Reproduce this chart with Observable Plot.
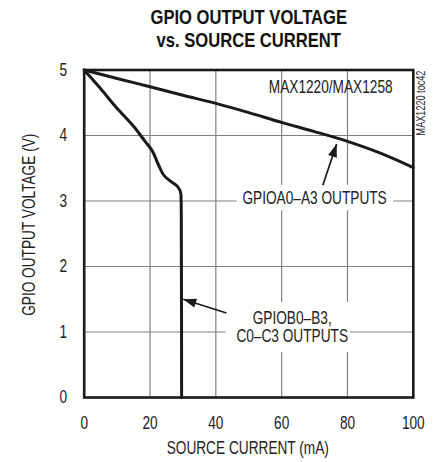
<!DOCTYPE html>
<html><head><meta charset="utf-8">
<script src="https://cdn.jsdelivr.net/npm/d3@7"></script>
<script src="https://cdn.jsdelivr.net/npm/@observablehq/plot@0.6"></script>
<style>
body{margin:0;background:#fff;}
#chart svg{font-family:"Liberation Sans",Arial,sans-serif;}
</style></head><body><div id="chart"></div>
<script>
// ---- data ----
const titleLines = ["GPIO OUTPUT VOLTAGE", "vs. SOURCE CURRENT"];
const xLabel = "SOURCE CURRENT (mA)";
const yLabel = "GPIO OUTPUT VOLTAGE (V)";
const xTicks = [0, 20, 40, 60, 80, 100];
const yTicks = [0, 1, 2, 3, 4, 5];
const xGrid = [20, 40, 60, 80];
const yGrid = [1, 2, 3, 4];
const currentA = [0, 10, 20, 30, 40, 50, 60, 70, 80, 90, 100];
const voltageA = [5, 4.87, 4.745, 4.615, 4.49, 4.35, 4.2, 4.06, 3.91, 3.73, 3.51];
const currentB = [0, 4.9, 9.9, 15, 18.5, 20.5, 22.6, 24.6, 26.3, 28.4, 29.4, 29.5, 29.6];
const voltageB = [5, 4.72, 4.42, 4.14, 3.91, 3.78, 3.55, 3.37, 3.30, 3.22, 3.10, 2.81, 0];
const partLabel = "MAX1220/MAX1258";
const docLabel = "MAX1220 toc42";
const seriesLabels = ["GPIOA0–A3 OUTPUTS", "GPIOB0–B3,\nC0–C3 OUTPUTS"];
const labelX = [70, 63.2];
const labelY = [3.04, 1.075];
const boxX1 = [46.5, 43.2], boxX2 = [94, 80.9];
const boxY1 = [2.85, 0.69], boxY2 = [3.24, 1.45];
const arrowX1 = [72.5, 43.2], arrowY1 = [3.24, 1.29];
const arrowX2 = [76.7, 30.1], arrowY2 = [3.87, 1.5];

// ---- layout ----
const W = 433, H = 462, ML = 83.7, MR = 20.2, MT = 69.5, MB = 65;
const kx = (W - ML - MR) / 100, ky = (H - MT - MB) / 5;
const ink = "#1a1a1a", txt = "#222";
const FS = 18;
const mid = {textAnchor: "middle", lineAnchor: "middle"};

const seriesA = currentA.map((x, i) => ({x, y: voltageA[i]}));
const seriesB = currentB.map((x, i) => ({x, y: voltageB[i]}));
const boxes = boxX1.map((_, i) => ({x1: boxX1[i], x2: boxX2[i], y1: boxY1[i], y2: boxY2[i]}));
const labels = seriesLabels.map((t, i) => ({t, x: labelX[i], y: labelY[i]}));
const arrows = arrowX1.map((_, i) => {
  const dx = (arrowX2[i] - arrowX1[i]) * kx, dy = -(arrowY2[i] - arrowY1[i]) * ky;
  return {x1: arrowX1[i], y1: arrowY1[i], x2: arrowX2[i], y2: arrowY2[i],
          angle: Math.atan2(dx, -dy) * 180 / Math.PI};
});
const head = {draw(ctx) { ctx.moveTo(0, 0); ctx.lineTo(-4.6, 13); ctx.lineTo(4.6, 13); ctx.closePath(); }};

const chart = Plot.plot({
  width: W, height: H,
  marginLeft: ML, marginRight: MR, marginTop: MT, marginBottom: MB,
  style: {fontSize: FS + "px", color: txt, background: "#fff"},
  x: {domain: [0, 100], ticks: xTicks, tickFormat: "d", tickSize: 0, tickPadding: 19, label: null},
  y: {domain: [0, 5], ticks: yTicks, tickFormat: "d", tickSize: 0, tickPadding: 17, label: null},
  marks: [
    Plot.ruleX(xGrid, {stroke: "#808080", strokeWidth: 1.2}),
    Plot.ruleY(yGrid, {stroke: "#808080", strokeWidth: 1.2}),
    Plot.rect(boxes, {x1: "x1", x2: "x2", y1: "y1", y2: "y2", fill: "#fff"}),
    Plot.line(seriesA, {x: "x", y: "y", stroke: ink, strokeWidth: 3, curve: "monotone-x"}),
    Plot.line(seriesB, {x: "x", y: "y", stroke: ink, strokeWidth: 3, curve: "monotone-y", strokeLinejoin: "round"}),
    Plot.link(arrows, {x1: "x1", y1: "y1", x2: "x2", y2: "y2", stroke: ink, strokeWidth: 1.7}),
    Plot.dot(arrows, {x: "x2", y: "y2", symbol: head, rotate: "angle", fill: ink, stroke: "none"}),
    Plot.text(labels, {x: "x", y: "y", text: "t", fontSize: FS, fill: txt, lineHeight: 1.04, ...mid}),
    Plot.text([partLabel], {x: 74.9, y: 4.737, fontSize: 18, fill: txt, ...mid}),
    Plot.text([docLabel], {x: 102.5, y: 4.496, rotate: -90, fontSize: 12, fill: txt, ...mid}),
    Plot.text([titleLines[0]], {frameAnchor: "top", dy: -52.5, fontSize: 20, fontWeight: "bold", fill: "#111", ...mid}),
    Plot.text([titleLines[1]], {frameAnchor: "top", dy: -29.5, fontSize: 20, fontWeight: "bold", fill: "#111", ...mid}),
    Plot.text([xLabel], {frameAnchor: "bottom", dy: 51, dx: -1, fontSize: FS, fill: txt, ...mid}),
    Plot.text([yLabel], {frameAnchor: "left", dx: -54.7, dy: -9, rotate: -90, fontSize: FS, fill: txt, ...mid}),
    Plot.frame({stroke: ink, strokeWidth: 2.6})
  ]
});
document.getElementById("chart").append(chart);

// condense text horizontally about its anchor (emulates a condensed face)
d3.select(chart).selectAll("text").each(function () {
  const bold = this.closest("[font-weight]");
  const s = bold ? 0.83 : 0.76;
  const x = parseFloat(this.getAttribute("x")) || 0;
  const tr = this.getAttribute("transform") || "";
  this.setAttribute("transform", `${tr} translate(${x},0) scale(${s},1) translate(${-x},0)`);
});
</script></body></html>
